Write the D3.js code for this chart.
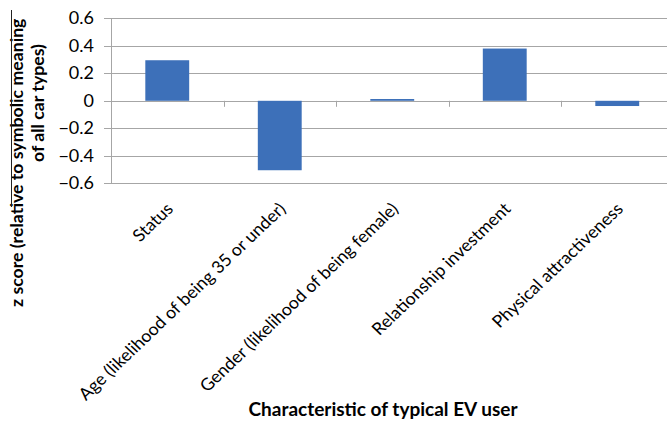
<!DOCTYPE html>
<html>
<head>
<meta charset="utf-8">
<script src="https://cdn.jsdelivr.net/npm/d3@7"></script>
<style>
  body { margin: 0; background: #fff; }
  svg { display: block; }
  text { font-family: Lato, "Open Sans", sans-serif; fill: #000; }
</style>
</head>
<body>
<svg id="chart" width="667" height="426"></svg>
<script>
// values
const categories = [
  'Status',
  'Age (likelihood of being 35 or under)',
  'Gender (likelihood of being female)',
  'Relationship investment',
  'Physical attractiveness'
]
const zScores = [0.295, -0.505, 0.013, 0.38, -0.038]
const yTicks = [0.6, 0.4, 0.2, 0, -0.2, -0.4, -0.6]

const svg = d3.select('#chart')
const plotLeft = 111, plotRight = 673.5, plotTop = 18.3, plotBottom = 183.3

let x = d3.scaleBand()
  .domain(categories)
  .range([plotLeft, plotRight])
  .paddingInner(0.61)
  .paddingOuter(0.305)

let y = d3.scaleLinear()
  .domain([-0.6, 0.6])
  .range([plotBottom, plotTop])

// gridlines + y ticks
svg.append('g')
  .selectAll('line')
  .data(yTicks)
  .enter().append('line')
  .attr('x1', plotLeft - 7)
  .attr('x2', plotRight)
  .attr('y1', d => Math.round(y(d)) + 0.5)
  .attr('y2', d => Math.round(y(d)) + 0.5)
  .attr('stroke', '#a6a6a6')
  .attr('stroke-width', 1)

// y axis line
svg.append('line')
  .attr('x1', plotLeft + 0.5).attr('x2', plotLeft + 0.5)
  .attr('y1', y(0.6)).attr('y2', y(-0.6))
  .attr('stroke', '#a6a6a6')

// category ticks on zero line
let step = x.step()
svg.append('g')
  .selectAll('line')
  .data(d3.range(1, categories.length))
  .enter().append('line')
  .attr('x1', i => Math.round(plotLeft + i * step) + 0.5)
  .attr('x2', i => Math.round(plotLeft + i * step) + 0.5)
  .attr('y1', y(0))
  .attr('y2', y(0) + 6)
  .attr('stroke', '#a6a6a6')

// bars
svg.append('g')
  .selectAll('rect')
  .data(categories)
  .enter().append('rect')
  .attr('x', d => x(d))
  .attr('width', x.bandwidth())
  .attr('y', (d, i) => y(Math.max(0, zScores[i])))
  .attr('height', (d, i) => Math.abs(y(zScores[i]) - y(0)))
  .attr('fill', '#3d70b9')

// tick labels
svg.append('g')
  .selectAll('text')
  .data(yTicks)
  .enter().append('text')
  .attr('x', 94)
  .attr('y', d => y(d) + 6)
  .attr('text-anchor', 'end')
  .attr('font-size', 18)
  .text(d => d === 0 ? '0' : d3.format('.1f')(d))

// category labels (source picture is slightly stretched sideways)
svg.append('g')
  .selectAll('text')
  .data(categories)
  .enter().append('text')
  .attr('text-anchor', 'end')
  .attr('font-size', 17)
  .attr('transform', d => `translate(${x(d) + x.bandwidth() / 2 + 7},${210}) scale(1.05,1) rotate(-45)`)
  .text(d => d)

// axis titles
svg.append('text')
  .attr('x', 383)
  .attr('y', 416)
  .attr('text-anchor', 'middle')
  .attr('font-size', 19)
  .attr('font-weight', 'bold')
  .text('Characteristic of typical EV user')

let yTitle = svg.append('g')
yTitle.append('text')
  .attr('transform', 'translate(23,307) rotate(-90)')
  .attr('font-size', 17.7)
  .attr('font-weight', 'bold')
  .text('z score (relative to symbolic meaning')
yTitle.append('text')
  .attr('transform', 'translate(44,162) rotate(-90)')
  .attr('font-size', 17.7)
  .attr('font-weight', 'bold')
  .text('of all car types)')

svg.append('line')
  .attr('x1', 11.5).attr('x2', 11.5)
  .attr('y1', 10).attr('y2', 207)
  .attr('stroke', '#222')
</script>
</body>
</html>
